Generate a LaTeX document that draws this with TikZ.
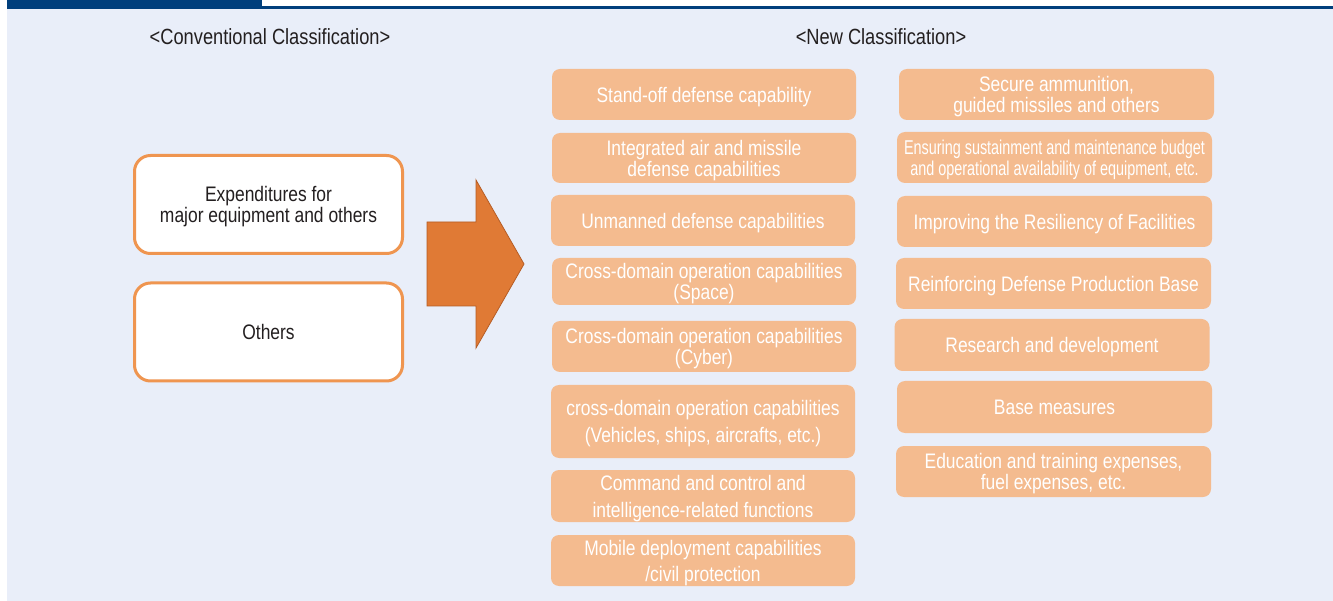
\documentclass[tikz,border=0pt]{standalone}
\usepackage{fontspec}
\setmainfont{Liberation Sans}[FakeStretch=0.83]
\usepackage{tikz}
\usepackage{xcolor}
\definecolor{pagebg}{HTML}{E9EEF9}
\definecolor{barblue}{HTML}{003F7C}
\definecolor{capfill}{HTML}{F4BB8F}
\definecolor{oldline}{HTML}{EF9550}
\definecolor{arrowfill}{HTML}{E07A35}
\definecolor{arrowline}{HTML}{B55C24}
\definecolor{headtext}{HTML}{231F20}

\begin{document}
\begin{tikzpicture}[x=1pt, y=-1pt,
  every node/.style={font=\fontsize{21}{21}\selectfont, align=center},
  capbox/.style={fill=capfill, text=white, rounded corners=8pt, minimum height=51pt, inner sep=0pt, text depth=0pt},
  midcap/.style={capbox, minimum width=304pt},
  rightcap/.style={capbox, minimum width=315pt},
  oldbox/.style={draw=oldline, line width=3pt, fill=white, rounded corners=16pt, minimum width=268pt, minimum height=98pt, text=headtext, text depth=0pt},
  heading/.style={text=headtext, font=\fontsize{22}{22}\selectfont}]
\useasboundingbox (0,0) rectangle (1333,601);
\fill[pagebg] (7,9) rectangle (1333,601);
\fill[barblue] (7,0) rectangle (262,9);
\fill[barblue] (262,6) rectangle (1333,9);
% headings
\node[heading] (convhead) at (270,37) {<Conventional Classification>};
\node[heading] (newhead) at (881,37) {<New Classification>};
% conventional classification
\node[oldbox] (equip) at (268.5,204.5) {\fontsize{21}{24}\selectfont Expenditures for\\major equipment and others};
\node[oldbox] (others) at (268.5,332) {Others};
% big arrow
\draw[fill=arrowfill, draw=arrowline, line width=0.8pt, line join=miter]
  (427,222) -- (476,222) -- (476,180) -- (524,264) -- (476,348) -- (476,306) -- (427,306) -- cycle;
% new classification, first column
\node[midcap] (standoff) at (704,94.5) {Stand-off defense capability};
\node[midcap, minimum height=50pt] (airmissile) at (704,158) {Integrated air and missile\\defense capabilities};
\node[midcap] (unmanned) at (703,220.5) {Unmanned defense capabilities};
\node[midcap, minimum height=47pt] (space) at (704,281.5) {Cross-domain operation capabilities\\(Space)};
\node[midcap] (cyber) at (704,346.5) {Cross-domain operation capabilities\\(Cyber)};
\node[midcap, minimum height=73pt, font=\fontsize{21}{27}\selectfont] (vehicles) at (703,421.5) {cross-domain operation capabilities\\(Vehicles, ships, aircrafts, etc.)};
\node[midcap, minimum height=52pt, font=\fontsize{21}{27}\selectfont] (command) at (703,496) {Command and control and\\intelligence-related functions};
\node[midcap, font=\fontsize{21}{26}\selectfont] (mobile) at (703,560.5) {Mobile deployment capabilities\\/civil protection};
% new classification, second column
\node[rightcap] (ammo) at (1056.5,94.5) {Secure ammunition,\\guided missiles and others};
\node[rightcap, font=\fontsize{20}{21}\addfontfeature{FakeStretch=0.72}\selectfont] (sustain) at (1054.5,157.5) {Ensuring sustainment and maintenance budget\\and operational availability of equipment, etc.};
\node[rightcap] (resilience) at (1054.5,221.5) {Improving the Resiliency of Facilities};
\node[rightcap] (production) at (1053.5,283.5) {Reinforcing Defense Production Base};
\node[rightcap, minimum height=52pt] (research) at (1052,345) {Research and development};
\node[rightcap, minimum height=52pt] (base) at (1054.5,407) {Base measures};
\node[rightcap] (education) at (1053.5,471.5) {Education and training expenses,\\fuel expenses, etc.};
\end{tikzpicture}
\end{document}
